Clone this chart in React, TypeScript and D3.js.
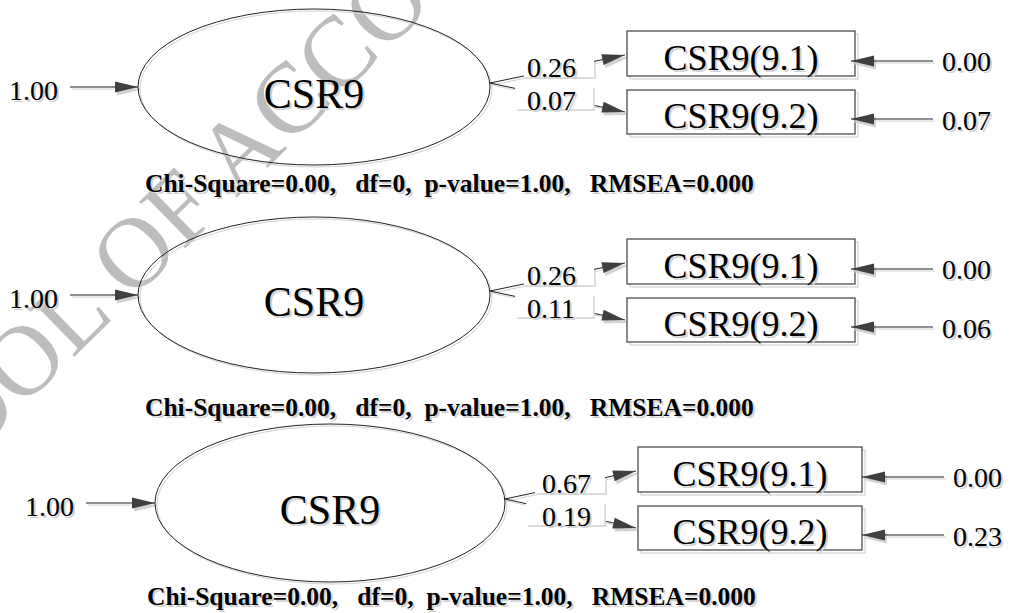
import React from "react";
import * as d3 from "d3";

// ---- data ----
const panelIds = [0, 1, 2];
const latentNames = ["CSR9", "CSR9", "CSR9"];
const latentVariance = [1.0, 1.0, 1.0];
const indicatorNames = ["CSR9(9.1)", "CSR9(9.2)"];
const loading91 = [0.26, 0.26, 0.67];
const loading92 = [0.07, 0.11, 0.19];
const errorVar91 = [0.0, 0.0, 0.0];
const errorVar92 = [0.07, 0.06, 0.23];
const chiSquare = [0.0, 0.0, 0.0];
const degreesFreedom = [0, 0, 0];
const pValue = [1.0, 1.0, 1.0];
const rmsea = [0.0, 0.0, 0.0];
const watermarkText = "SCHOOL OF ACCOUNTANCY";

// ---- layout ----
const W = 1011;
const H = 613;
const SERIF = "Liberation Serif, Times New Roman, serif";
const SHADOW = "#d2d2d2";
const DARK = "#3f3f3f";

const panelY = d3.scalePoint<number>().domain(panelIds).range([87, 503]);
const leftShift = [0, 0, 16];
const rightShift = [0, 0, 11];
const chiOffset = [105, 121, 102];
const chiX = [145, 145, 147];
const ellRx = [176, 176, 175];
const ellRy = [78, 78, 79];

const fmt2 = d3.format(".2f");
const fmt3 = d3.format(".3f");

function headPoints(tx: number, ty: number, fx: number, fy: number, len = 23, half = 5.5) {
  const a = Math.atan2(ty - fy, tx - fx);
  const bx = tx - len * Math.cos(a);
  const by = ty - len * Math.sin(a);
  const px = -Math.sin(a) * half;
  const py = Math.cos(a) * half;
  return `${tx},${ty} ${bx + px},${by + py} ${bx - px},${by - py}`;
}

function Arrow({ x1, y1, x2, y2 }: { x1: number; y1: number; x2: number; y2: number }) {
  return (
    <g>
      <line x1={x1 + 2} y1={y1 + 2} x2={x2 + 2} y2={y2 + 2} stroke={SHADOW} strokeWidth={1} />
      <polygon points={headPoints(x2 + 2, y2 + 3, x1 + 2, y1 + 3)} fill={SHADOW} />
      <line x1={x1} y1={y1} x2={x2} y2={y2} stroke="#222" strokeWidth={1} />
      <polygon points={headPoints(x2, y2, x1, y1)} fill={DARK} />
    </g>
  );
}

function SText({ x, y, size, children, anchor = "start", weight = "normal" }: any) {
  return (
    <g fontFamily={SERIF} fontSize={size} fontWeight={weight} textAnchor={anchor}>
      <text x={x + 2} y={y + 2} fill={SHADOW} xmlSpace="preserve">{children}</text>
      <text x={x} y={y} fill="#000" xmlSpace="preserve">{children}</text>
    </g>
  );
}

function Panel({ i }: { i: number }) {
  const cy = panelY(i) as number;
  const lx = leftShift[i];
  const rx = rightShift[i];
  const cx = 314 + lx;
  const erx = ellRx[i];
  const ery = ellRy[i];
  const startX = cx + erx;
  const startY = cy - 4;
  const tipX = 625 + rx;
  const rows = [
    { name: indicatorNames[0], load: loading91[i], err: errorVar91[i], tipY: cy - 32, boxY: cy - 56, boxH: 45, textY: cy - 17,
      lab: { x: 524 + rx, y: cy - 27, w: 70, h: 17 }, labY: cy - 10, errY: cy - 26, errTextY: cy - 16 },
    { name: indicatorNames[1], load: loading92[i], err: errorVar92[i], tipY: cy + 25, boxY: cy + 3, boxH: 44, textY: cy + 41,
      lab: { x: 515 + rx, y: cy - 1, w: 78, h: 23 }, labY: cy + 23, errY: cy + 32, errTextY: cy + 43 },
  ];
  const boxX = 627 + rx;
  const boxW = 228 - (rx > 0 ? 4 : 0);
  const chi = `Chi-Square=${fmt2(chiSquare[i])},   df=${degreesFreedom[i]},  p-value=${fmt2(pValue[i])},   RMSEA=${fmt3(rmsea[i])}`;
  return (
    <g>
      <SText x={9 + lx} y={cy + 13} size={28}>{fmt2(latentVariance[i])}</SText>
      <Arrow x1={70 + lx} y1={cy} x2={cx - erx} y2={cy} />
      <ellipse cx={cx + 2} cy={cy + 2} rx={erx} ry={ery} fill="none" stroke={SHADOW} strokeWidth={1} />
      <ellipse cx={cx} cy={cy} rx={erx} ry={ery} fill="none" stroke="#222" strokeWidth={1} />
      <SText x={cx} y={cy + 21} size={42} anchor="middle">{latentNames[i]}</SText>
      {rows.map((r, k) => (
        <Arrow key={"l" + k} x1={startX} y1={startY} x2={tipX} y2={r.tipY} />
      ))}
      {rows.map((r, k) => (
        <g key={"lb" + k}>
          <rect x={r.lab.x + 2} y={r.lab.y + 2} width={r.lab.w} height={r.lab.h} fill="#dcdcdc" />
          <rect x={r.lab.x} y={r.lab.y} width={r.lab.w} height={r.lab.h} fill="#fff" />
          <SText x={527 + rx + (rx > 0 ? 4 : 0)} y={r.labY} size={28}>{fmt2(r.load)}</SText>
        </g>
      ))}
      {rows.map((r, k) => (
        <g key={"b" + k}>
          <rect x={boxX + 3} y={r.boxY + 3} width={boxW} height={r.boxH} fill="none" stroke={SHADOW} strokeWidth={1.2} />
          <rect x={boxX} y={r.boxY} width={boxW} height={r.boxH} fill="#fff" stroke={DARK} strokeWidth={1.2} />
          <SText x={boxX + boxW / 2} y={r.textY} size={36} anchor="middle">{r.name}</SText>
        </g>
      ))}
      {rows.map((r, k) => (
        <g key={"e" + k}>
          <Arrow x1={933 + rx} y1={r.errY} x2={851 + rx} y2={r.errY} />
          <SText x={942 + rx} y={r.errTextY} size={28}>{fmt2(r.err)}</SText>
        </g>
      ))}
      <SText x={chiX[i]} y={cy + chiOffset[i]} size={25.5} weight="bold">{chi}</SText>
    </g>
  );
}

export default function App() {
  return (
    <svg width={W} height={H} style={{ position: "absolute", left: 0, top: 0, background: "#fff" }}>
      <rect width={W} height={H} fill="#fff" />
      <text
        transform="translate(-170,596) rotate(-44.4)"
        fontFamily={SERIF}
        fontSize={100}
        fill="#bdbdbd"
      >
        {watermarkText}
      </text>
      {panelIds.map((i) => (
        <Panel key={i} i={i} />
      ))}
    </svg>
  );
}
